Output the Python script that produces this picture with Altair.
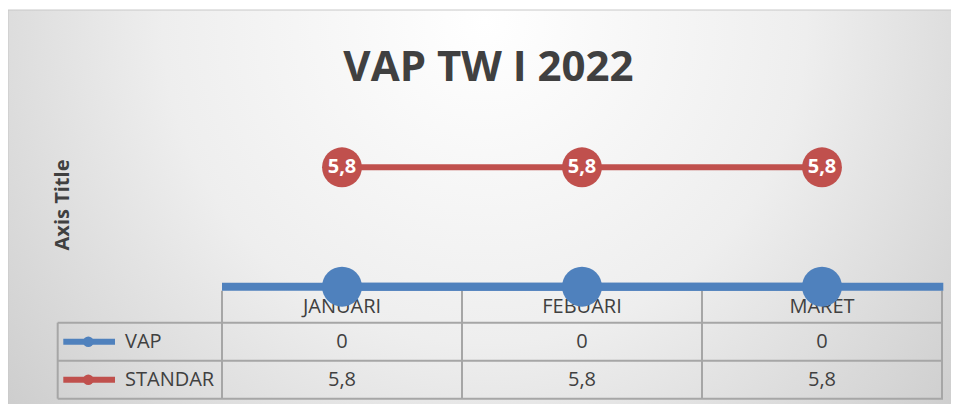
import altair as alt
import pandas as pd

# ---- data ----
months = ["JANUARI", "FEBUARI", "MARET"]
vap = [0, 0, 0]
standar = [5.8, 5.8, 5.8]
series_names = ["VAP", "STANDAR"]
title_text = "VAP TW I 2022"
y_title = "Axis Title"

BLUE = "#4F81BD"
RED = "#C0504D"
TXT = "#404040"
GRID = "#A6A6A6"
FONT = "Open Sans"


def fmt(v):
    return f"{v:g}".replace(".", ",")


rows = []
for name, vals in zip(series_names, [vap, standar]):
    for m, v in zip(months, vals):
        rows.append({"series": name, "month": m, "value": v, "label": fmt(v)})
df = pd.DataFrame(rows)
mdf = pd.DataFrame({"month": months})
one = pd.DataFrame({"k": [0]})
leg = pd.DataFrame({"series": series_names})
hb = pd.DataFrame({"b": [0, 1, 2]})

W, H = 943, 396
xs = alt.Scale(type="band", domain=months, range=[214, 934], paddingInner=0, paddingOuter=0)
ys = alt.Scale(domain=[0, 7], range=[278.7, 134.6], nice=False, zero=False)
rs = alt.Scale(type="point", domain=series_names, range=[333.7, 371.7], padding=0)
bs = alt.Scale(domain=[0, 2], range=[314.7, 390.7], nice=False, zero=False)
cs = alt.Scale(domain=series_names, range=[BLUE, RED])
X = alt.X("month:N", scale=xs, axis=None)
YV = alt.Y("value:Q", scale=ys, axis=None)
YR = alt.Y("series:N", scale=rs, axis=None)

grad = alt.RadialGradient(
    gradient="radial",
    stops=[
        alt.GradientStop(color="#ffffff", offset=0),
        alt.GradientStop(color="#eeeeee", offset=0.45),
        alt.GradientStop(color="#c2c2c2", offset=1),
    ],
    x1=0.5, y1=0.3, x2=0.5, y2=0.3, r1=0, r2=0.75,
)

bg = alt.Chart(one).mark_rect(fill=grad, stroke="#c8c8c8", strokeWidth=1).encode(
    x=alt.value(0), x2=alt.value(W + 10), y=alt.value(2), y2=alt.value(H + 10)
)

title = alt.Chart(one).mark_text(
    text=title_text, font=FONT, fontSize=42, fontWeight="bold", color=TXT, baseline="middle"
).encode(x=alt.value(480.5), y=alt.value(59.5))

ytitle = alt.Chart(one).mark_text(
    text=y_title, font=FONT, fontSize=20, fontWeight="bold", color=TXT, angle=270, baseline="middle"
).encode(x=alt.value(54.5), y=alt.value(197))

axis_rule = alt.Chart(one).mark_rule(color=BLUE, strokeWidth=8).encode(
    y=alt.YDatum(datum=0, type="quantitative", scale=ys, axis=None),
    x=alt.value(214), x2=alt.value(935.3),
)

vl0 = alt.Chart(mdf).mark_rule(color=GRID, strokeWidth=2).encode(
    x=alt.X("month:N", scale=xs, axis=None, bandPosition=0), y=alt.value(282.7), y2=alt.value(390.7)
)
vl1 = alt.Chart(mdf).mark_rule(color=GRID, strokeWidth=2).encode(
    x=alt.X("month:N", scale=xs, axis=None, bandPosition=1), y=alt.value(282.7), y2=alt.value(390.7)
)
vleft = alt.Chart(one).mark_rule(color=GRID, strokeWidth=2).encode(
    x=alt.value(49.7), y=alt.value(314.7), y2=alt.value(390.7)
)
hl = alt.Chart(hb).mark_rule(color=GRID, strokeWidth=2).encode(
    y=alt.Y("b:Q", scale=bs, axis=None), x=alt.value(49.7), x2=alt.value(935)
)

hdr = alt.Chart(mdf).mark_text(font=FONT, fontSize=20, color=TXT, baseline="middle").encode(
    x=X, y=alt.value(298.7), text="month:N"
)
tbl = alt.Chart(df).mark_text(font=FONT, fontSize=20, color=TXT, baseline="middle").encode(
    x=X, y=YR, text="label:N"
)
leg_line = alt.Chart(leg).mark_rule(strokeWidth=6).encode(
    x=alt.value(55.3), x2=alt.value(107), y=YR, color=alt.Color("series:N", scale=cs, legend=None)
)
leg_pt = alt.Chart(leg).mark_circle(size=113, opacity=1).encode(
    x=alt.value(80.3), y=YR, color=alt.Color("series:N", scale=cs, legend=None)
)
leg_txt = alt.Chart(leg).mark_text(font=FONT, fontSize=20, color=TXT, align="left", baseline="middle").encode(
    x=alt.value(117), y=YR, text="series:N"
)

vap_line = alt.Chart(df).transform_filter(alt.datum.series == "VAP").mark_line(
    color=BLUE, strokeWidth=8
).encode(x=X, y=YV)
vap_pts = alt.Chart(df).transform_filter(alt.datum.series == "VAP").mark_circle(
    color=BLUE, size=1590, opacity=1
).encode(x=X, y=YV)
std_line = alt.Chart(df).transform_filter(alt.datum.series == "STANDAR").mark_line(
    color=RED, strokeWidth=6
).encode(x=X, y=YV)
std_pts = alt.Chart(df).transform_filter(alt.datum.series == "STANDAR").mark_circle(
    color=RED, size=1590, opacity=1
).encode(x=X, y=YV)
std_lbl = alt.Chart(df).transform_filter(alt.datum.series == "STANDAR").mark_text(
    font=FONT, fontSize=20, fontWeight="bold", color="white", baseline="middle"
).encode(x=X, y=YV, text="label:N")

chart = alt.layer(
    bg, title, ytitle, vl0, vl1, vleft, hl, axis_rule,
    hdr, tbl, leg_line, leg_pt, leg_txt,
    vap_line, vap_pts, std_line, std_pts, std_lbl,
).resolve_scale(y="independent").properties(
    width=W, height=H, autosize=alt.AutoSizeParams(type="none"), padding=0
).configure_view(stroke=None)

chart.save("out.html", embed_options={"renderer": "svg", "actions": False})
